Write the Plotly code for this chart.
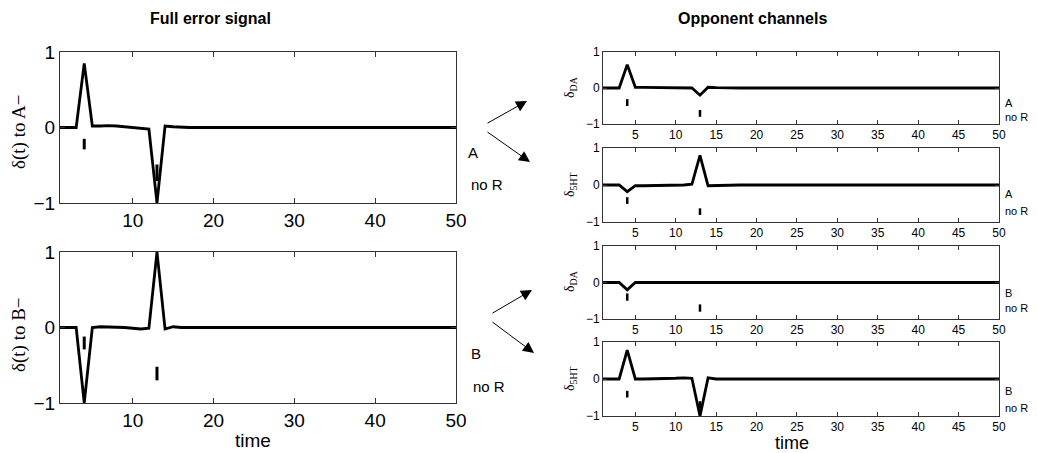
import plotly.graph_objects as go

W, H = 1037, 453

# ---------------- data ----------------
t = list(range(1, 51))

def pad(head):
    return head + [0.0] * (50 - len(head))

full_A = pad([0, 0, 0, 0.85, 0.02, 0.02, 0.025, 0.02, 0.01, 0.0, -0.01, -0.02, -1.0, 0.02, 0.01, 0])
full_B = pad([0, 0, 0, -1.0, 0.0, 0.01, 0.01, 0.01, 0.0, -0.01, -0.02, -0.01, 1.0, -0.02, 0.01, 0])
da_A = pad([0, 0, 0, 0.65, 0.02, 0.02, 0.02, 0.015, 0.01, 0.01, 0.005, 0.0, -0.2, 0.02, 0.01, 0])
sht_A = pad([0, 0, 0, -0.18, -0.02, -0.02, -0.02, -0.015, -0.01, -0.005, 0.0, 0.02, 0.8, -0.02, -0.01, 0])
da_B = pad([0, 0, 0, -0.2, 0.0, 0, 0, 0, 0, 0, 0, 0, 0, 0, 0, 0])
sht_B = pad([0, 0, 0, 0.78, 0.0, 0.0, 0.0, 0.01, 0.015, 0.02, 0.03, 0.02, -1.0, 0.03, 0.0, 0])

# stimulus markers: time, lower end, upper end
mark_t = [4, 13]
mark_full_A = [(-0.29, -0.15), (-0.71, -0.49)]
mark_full_B = [(-0.29, -0.12), (-0.70, -0.52)]
mark_da_A = [(-0.50, -0.31), (-0.80, -0.61)]
mark_sht_A = [(-0.51, -0.33), (-0.81, -0.63)]
mark_da_B = [(-0.50, -0.30), (-0.80, -0.60)]
mark_sht_B = [(-0.50, -0.32), (-0.80, -0.60)]

left_xticks = [10, 20, 30, 40, 50]
right_xticks = [5, 10, 15, 20, 25, 30, 35, 40, 45, 50]
yticks = [-1, 0, 1]
ytick_text = ["\u22121", "0", "1"]

# ---------------- layout helpers ----------------
def px_x(p):
    return p / W

def px_y(p):
    return 1 - p / H

panels = [
    ("1", full_A, mark_full_A, (60, 456), (52, 203), True),
    ("2", full_B, mark_full_B, (60, 456), (252, 403), True),
    ("3", da_A, mark_da_A, (603, 999), (52, 124), False),
    ("4", sht_A, mark_sht_A, (603, 999), (148, 222), False),
    ("5", da_B, mark_da_B, (603, 999), (246, 319), False),
    ("6", sht_B, mark_sht_B, (603, 999), (342, 416), False),
]

fig = go.Figure()
layout = dict(
    width=W, height=H, autosize=False,
    margin=dict(l=0, r=0, t=0, b=0, pad=0, autoexpand=False),
    paper_bgcolor="white", plot_bgcolor="white", showlegend=False,
    font=dict(family="Liberation Sans, Arial, sans-serif", color="black"),
)

frame = "#333333"
for name, ys, marks, (x0, x1), (yt, yb), big in panels:
    xa = "x" if name == "1" else "x" + name
    ya = "y" if name == "1" else "y" + name
    fig.add_trace(go.Scatter(x=t, y=ys, mode="lines", xaxis=xa, yaxis=ya,
                             line=dict(color="black", width=2.8), hoverinfo="skip"))
    mx, my = [], []
    for tt, (lo, hi) in zip(mark_t, marks):
        mx += [tt, tt, None]
        my += [lo, hi, None]
    fig.add_trace(go.Scatter(x=mx, y=my, mode="lines", xaxis=xa, yaxis=ya,
                             line=dict(color="black", width=3 if big else 2.5), hoverinfo="skip"))
    fs = 19 if big else 12
    xkey = "xaxis" if name == "1" else "xaxis" + name
    ykey = "yaxis" if name == "1" else "yaxis" + name
    layout[xkey] = dict(
        domain=[px_x(x0), px_x(x1)], range=[1, 50], anchor=ya, automargin=False,
        tickvals=left_xticks if big else right_xticks,
        ticks="inside", ticklen=5 if big else 4, tickcolor=frame, tickwidth=1,
        showline=True, linecolor=frame, linewidth=1, mirror="ticks",
        showgrid=False, zeroline=False, tickfont=dict(size=fs),
    )
    layout[ykey] = dict(
        domain=[px_y(yb), px_y(yt)], range=[-1, 1], anchor=xa, automargin=False,
        tickvals=yticks, ticktext=ytick_text,
        ticks="inside", ticklen=5 if big else 4, tickcolor=frame, tickwidth=1,
        showline=True, linecolor=frame, linewidth=1, mirror="ticks",
        showgrid=False, zeroline=False, tickfont=dict(size=fs),
    )

annotations = []

def text(x, y, s, size, anchor="left", bold=False, family=None, angle=0):
    annotations.append(dict(
        x=px_x(x), y=px_y(y), xref="paper", yref="paper", text=("<b>%s</b>" % s) if bold else s,
        showarrow=False, xanchor=anchor, yanchor="middle", textangle=angle,
        font=dict(size=size, family=family or "Liberation Sans, Arial, sans-serif", color="black"),
    ))

text(210, 19, "Full error signal", 16, anchor="center", bold=True)
text(752, 19, "Opponent channels", 16, anchor="center", bold=True)
text(253, 440, "time", 19, anchor="center")
text(792, 443, "time", 18, anchor="center")

serif = "Liberation Serif, Times New Roman, serif"
text(19, 132, "\u03b4(t) to A\u2212", 19, anchor="center", family=serif, angle=-90)
text(19, 335, "\u03b4(t) to B\u2212", 19, anchor="center", family=serif, angle=-90)
for yc, sub in [(88, "DA"), (185, "5HT"), (282, "DA"), (379, "5HT")]:
    text(570, yc, "\u03b4<sub>%s</sub>" % sub, 14, anchor="center", family=serif, angle=-90)

# condition labels
text(466, 153, "A", 15)
text(469, 184, "no R", 15)
text(469, 353, "B", 15)
text(471, 386, "no R", 15)
for yA, yN, lab in [(103, 117, "A"), (194, 211, "A"), (293, 308, "B"), (391, 408, "B")]:
    text(1003, yA, lab, 11)
    text(1003, yN, "no R", 11)

# arrows (head px, tail px)
arrows = [((527, 101), (486, 124)), ((530, 162), (486, 131)),
          ((532, 290), (491, 314)), ((534, 353), (491, 321))]
for (hx, hy), (tx, ty) in arrows:
    annotations.append(dict(
        x=px_x(hx), y=px_y(hy), xref="paper", yref="paper", text="",
        showarrow=True, ax=tx - hx, ay=ty - hy, axref="pixel", ayref="pixel",
        arrowhead=2, arrowsize=2.2, arrowwidth=1, arrowcolor="black", standoff=0,
    ))

layout["annotations"] = annotations
fig.update_layout(**layout)
fig.write_html(
    "out.html",
    config={"responsive": False, "displayModeBar": False},
    post_script="document.body.style.margin='0';document.body.style.padding='0';"
                "document.body.style.overflow='hidden';",
)
